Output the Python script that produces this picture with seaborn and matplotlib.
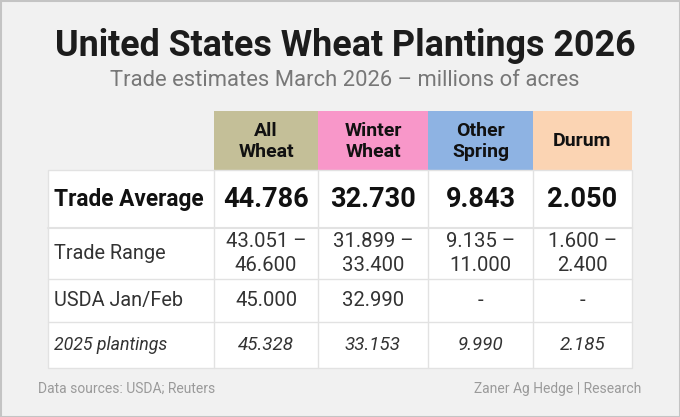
import matplotlib.pyplot as plt
import matplotlib.patches as mpatches
import seaborn as sns

# data
columns = ["All\nWheat", "Winter\nWheat", "Other\nSpring", "Durum"]
header_colors = ["#c4bf98", "#f897c9", "#8eb3e3", "#fbd4b3"]
row_labels = ["Trade Average", "Trade Range", "USDA Jan/Feb", "2025 plantings"]
trade_avg = [44.786, 32.730, 9.843, 2.050]
range_low = [43.051, 31.899, 9.135, 1.600]
range_high = [46.600, 33.400, 11.000, 2.400]
usda_janfeb = [45.000, 32.990, None, None]
plantings_2025 = [45.328, 33.153, 9.990, 2.185]

sns.set_theme(style="white")
plt.rcParams['font.family'] = ['Roboto', 'DejaVu Sans']

# layout (pixels)
col_edges = [48, 214, 318, 428, 533, 632]
row_edges = [170, 228, 279, 322, 368]
head_top = 111
grid = "#e2e2e2"

fig = plt.figure(figsize=(6.8, 4.17), dpi=100)
fig.patch.set_facecolor("#f1f1f1")
ax = fig.add_axes([0, 0, 1, 1])
ax.set_xlim(0, 680)
ax.set_ylim(417, 0)
ax.axis("off")

# outer border
ax.add_patch(mpatches.Rectangle((0.5, 0.5), 679, 416, fill=False, ec="#c4c4c4", lw=1.5))

ax.text(345, 46, "United States Wheat Plantings 2026", ha="center", va="center",
        fontsize=25.8, fontweight="bold", color="#1c1c1c")
ax.text(345, 80, "Trade estimates March 2026 \u2013 millions of acres", ha="center", va="center",
        fontsize=15.8, color="#777777")

# header cells
for i, (name, c) in enumerate(zip(columns, header_colors)):
    x0, x1 = col_edges[i + 1], col_edges[i + 2]
    ax.add_patch(mpatches.Rectangle((x0, head_top), x1 - x0, row_edges[0] - head_top, fc=c, ec="none"))
    ax.text((x0 + x1) / 2, (head_top + row_edges[0]) / 2 + 1, name, ha="center", va="center",
            fontsize=14, fontweight="bold", color="#111111", linespacing=1.25)

# body background
ax.add_patch(mpatches.Rectangle((col_edges[0], row_edges[0]), col_edges[-1] - col_edges[0],
                                row_edges[-1] - row_edges[0], fc="white", ec=grid, lw=1))
for y in row_edges[1:-1]:
    ax.plot([col_edges[0], col_edges[-1]], [y, y], color=grid, lw=1.5 if y == row_edges[1] else 1)
for x in col_edges[1:-1]:
    ax.plot([x, x], [row_edges[0], row_edges[-1]], color=grid, lw=1)


def fmt(v):
    return "-" if v is None else f"{v:.3f}"


rows = [
    [fmt(v) for v in trade_avg],
    [f"{fmt(lo)} \u2013\n{fmt(hi)}" for lo, hi in zip(range_low, range_high)],
    [fmt(v) for v in usda_janfeb],
    [fmt(v) for v in plantings_2025],
]

for r, (label, vals) in enumerate(zip(row_labels, rows)):
    yc = (row_edges[r] + row_edges[r + 1]) / 2
    if r == 0:
        lab_kw = dict(fontsize=16.3, fontweight="bold", color="#111111")
        val_kw = dict(fontsize=19.5, fontweight="bold", color="#111111")
    elif r == 3:
        lab_kw = dict(fontsize=12.8, style="italic", color="#333333")
        val_kw = dict(fontsize=13.5, style="italic", color="#333333")
    else:
        lab_kw = dict(fontsize=14.3, color="#333333")
        val_kw = dict(fontsize=14.6, color="#333333")
    ax.text(54, yc, label, ha="left", va="center", **lab_kw)
    for i, v in enumerate(vals):
        xc = (col_edges[i + 1] + col_edges[i + 2]) / 2
        ax.text(xc, yc, v, ha="center", va="center", linespacing=1.3, **val_kw)

ax.text(38, 389, "Data sources: USDA; Reuters", ha="left", va="center", fontsize=10, color="#9a9a9a")
ax.text(641, 389, "Zaner Ag Hedge | Research", ha="right", va="center", fontsize=10, color="#9a9a9a")

fig.savefig("out.png", dpi=100, facecolor=fig.get_facecolor())
